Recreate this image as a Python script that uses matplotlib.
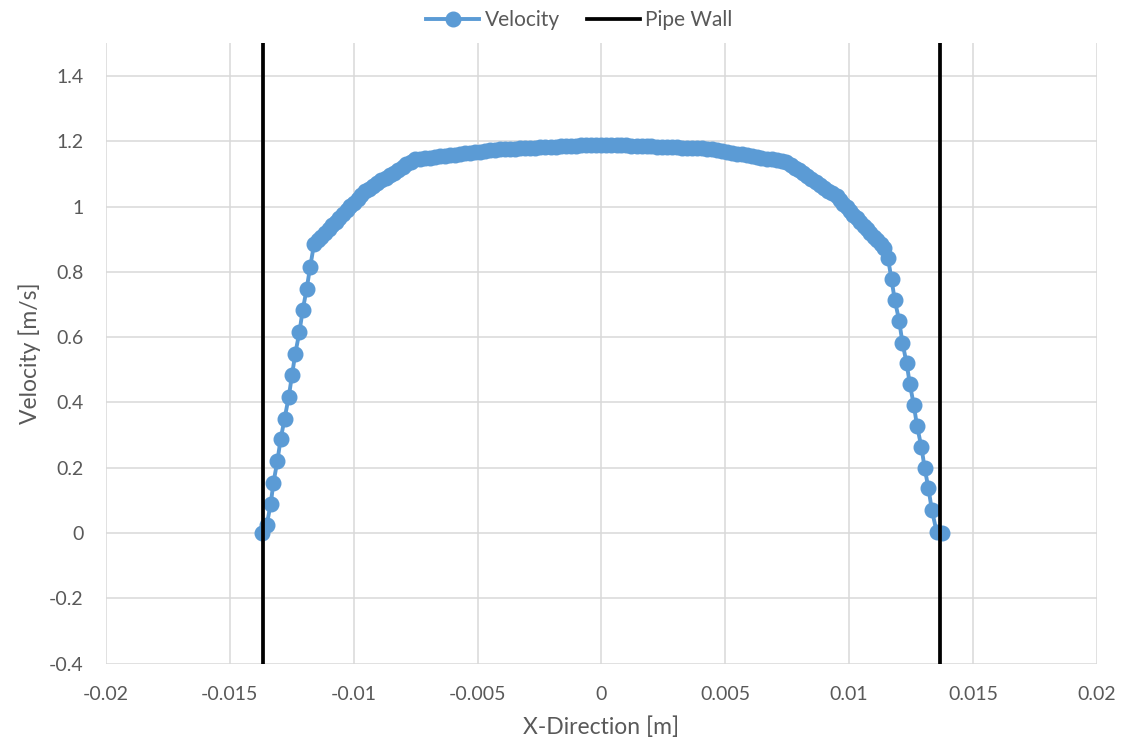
import numpy as np
import matplotlib.pyplot as plt

plt.rcParams['font.family'] = ['Lato', 'DejaVu Sans']

# Velocity profile across the pipe
# near left wall
x_left = [-0.01371, -0.01351, -0.01335, -0.01324, -0.01308, -0.01295, -0.01279, -0.01262,
          -0.01249, -0.01236, -0.01219, -0.01206, -0.01190, -0.01176]
v_left = [0.000, 0.025, 0.089, 0.154, 0.221, 0.287, 0.350, 0.418,
          0.484, 0.549, 0.616, 0.682, 0.747, 0.814]

# core region (densely sampled)
x_core = [
    -0.01160, -0.01145, -0.01131, -0.01116, -0.01101, -0.01087, -0.01072, -0.01058,
    -0.01043, -0.01028, -0.01014, -0.00999, -0.00984, -0.00970, -0.00955,
    -0.00938, -0.00921, -0.00904, -0.00888, -0.00871, -0.00854, -0.00837, -0.00820,
    -0.00803, -0.00787, -0.00770, -0.00753,
    -0.00733, -0.00713, -0.00692, -0.00672, -0.00652, -0.00632, -0.00612, -0.00591,
    -0.00571, -0.00551, -0.00531, -0.00511, -0.00490, -0.00470, -0.00450, -0.00430,
    -0.00410,
    -0.00390, -0.00369, -0.00349, -0.00328, -0.00308, -0.00287, -0.00267, -0.00246,
    -0.00226, -0.00205, -0.00185, -0.00164, -0.00144, -0.00123, -0.00103, -0.00082,
    -0.00062, -0.00041, -0.00021, 0.00000,
    0.00020, 0.00040, 0.00061, 0.00081, 0.00101, 0.00121, 0.00142, 0.00162,
    0.00182, 0.00202, 0.00223, 0.00243, 0.00263, 0.00283, 0.00304, 0.00324,
    0.00344, 0.00364, 0.00385, 0.00405, 0.00425,
    0.00445, 0.00465, 0.00485, 0.00506, 0.00526, 0.00546, 0.00566, 0.00586,
    0.00606, 0.00626, 0.00646, 0.00667, 0.00687, 0.00707, 0.00727, 0.00747,
    0.00764, 0.00781, 0.00797, 0.00814, 0.00831, 0.00848, 0.00865, 0.00882,
    0.00898, 0.00915, 0.00932, 0.00949,
    0.00963, 0.00976, 0.00990, 0.01004, 0.01017, 0.01031, 0.01045, 0.01058,
    0.01072, 0.01086, 0.01099, 0.01113, 0.01127, 0.01140,
]
v_core = [
    0.885, 0.897, 0.908, 0.920, 0.931, 0.943, 0.954, 0.966,
    0.978, 0.989, 1.001, 1.012, 1.024, 1.035, 1.047,
    1.055, 1.063, 1.072, 1.080, 1.088, 1.096, 1.104, 1.112,
    1.120, 1.129, 1.137, 1.145,
    1.147, 1.149, 1.150, 1.152, 1.154, 1.156, 1.157, 1.159,
    1.161, 1.163, 1.164, 1.166, 1.168, 1.170, 1.172, 1.173,
    1.175,
    1.176, 1.176, 1.177, 1.178, 1.179, 1.179, 1.180, 1.181,
    1.182, 1.183, 1.183, 1.184, 1.185, 1.185, 1.186, 1.187,
    1.188, 1.188, 1.189, 1.190,
    1.189, 1.189, 1.188, 1.188, 1.187, 1.186, 1.186, 1.185,
    1.184, 1.184, 1.183, 1.183, 1.182, 1.181, 1.181, 1.180,
    1.179, 1.179, 1.178, 1.178, 1.177,
    1.175, 1.172, 1.170, 1.167, 1.165, 1.162, 1.160, 1.157,
    1.155, 1.152, 1.150, 1.147, 1.145, 1.142, 1.140, 1.137,
    1.128, 1.119, 1.111, 1.102, 1.093, 1.084, 1.076, 1.067,
    1.058, 1.049, 1.041, 1.032,
    1.021, 1.009, 0.998, 0.987, 0.975, 0.964, 0.953, 0.941,
    0.930, 0.919, 0.907, 0.896, 0.885, 0.873,
]

# near right wall
x_right = [0.01157, 0.01171, 0.01184, 0.01202, 0.01215, 0.01232, 0.01245, 0.01261, 0.01274,
           0.01292, 0.01305, 0.01320, 0.01334, 0.01353, 0.01373]
v_right = [0.841, 0.777, 0.714, 0.650, 0.583, 0.520, 0.456, 0.392, 0.328,
           0.262, 0.198, 0.137, 0.070, 0.004, 0.000]

x_pos = x_left + x_core + x_right
velocity = v_left + v_core + v_right

# Pipe wall positions
wall_x = [-0.01368, 0.01368]
wall_y = [-0.4, 1.5]

blue = '#5b9bd5'
grey = '#595959'

fig, ax = plt.subplots(figsize=(11.25, 7.43), dpi=100)
fig.subplots_adjust(left=0.0942, right=0.975, top=0.9417, bottom=0.1069)

ax.plot(x_pos, velocity, color=blue, lw=2.8, marker='o', markersize=10.5,
        label='Velocity', zorder=3)
for i, wx in enumerate(wall_x):
    ax.plot([wx, wx], wall_y, color='black', lw=2.7,
            label='Pipe Wall' if i == 0 else None, zorder=4)

ax.set_xlim(-0.02, 0.02)
ax.set_ylim(-0.4, 1.5)
ax.set_xticks(np.arange(-0.02, 0.0201, 0.005))
ax.set_xticklabels(['-0.02', '-0.015', '-0.01', '-0.005', '0', '0.005', '0.01', '0.015', '0.02'])
ax.set_yticks(np.arange(-0.4, 1.41, 0.2))
ax.set_yticklabels(['-0.4', '-0.2', '0', '0.2', '0.4', '0.6', '0.8', '1', '1.2', '1.4'])

ax.grid(True, color='#d9d9d9', lw=1.1)
ax.set_axisbelow(True)
for s in ax.spines.values():
    s.set_visible(False)
ax.tick_params(axis='y', length=0, labelsize=14, labelcolor=grey, pad=16)
ax.tick_params(axis='x', length=0, labelsize=14, labelcolor=grey, pad=16)

ax.set_xlabel('X-Direction [m]', fontsize=16.5, color=grey, labelpad=10)
ax.set_ylabel('Velocity [m/s]', fontsize=16.5, color=grey, labelpad=6)

fig.legend(loc='upper center', bbox_to_anchor=(0.515, 1.012), ncol=2, frameon=False,
           fontsize=15, labelcolor=grey, handlelength=2.55, columnspacing=1.3,
           handletextpad=0.25)

fig.savefig('out.png', dpi=100)
